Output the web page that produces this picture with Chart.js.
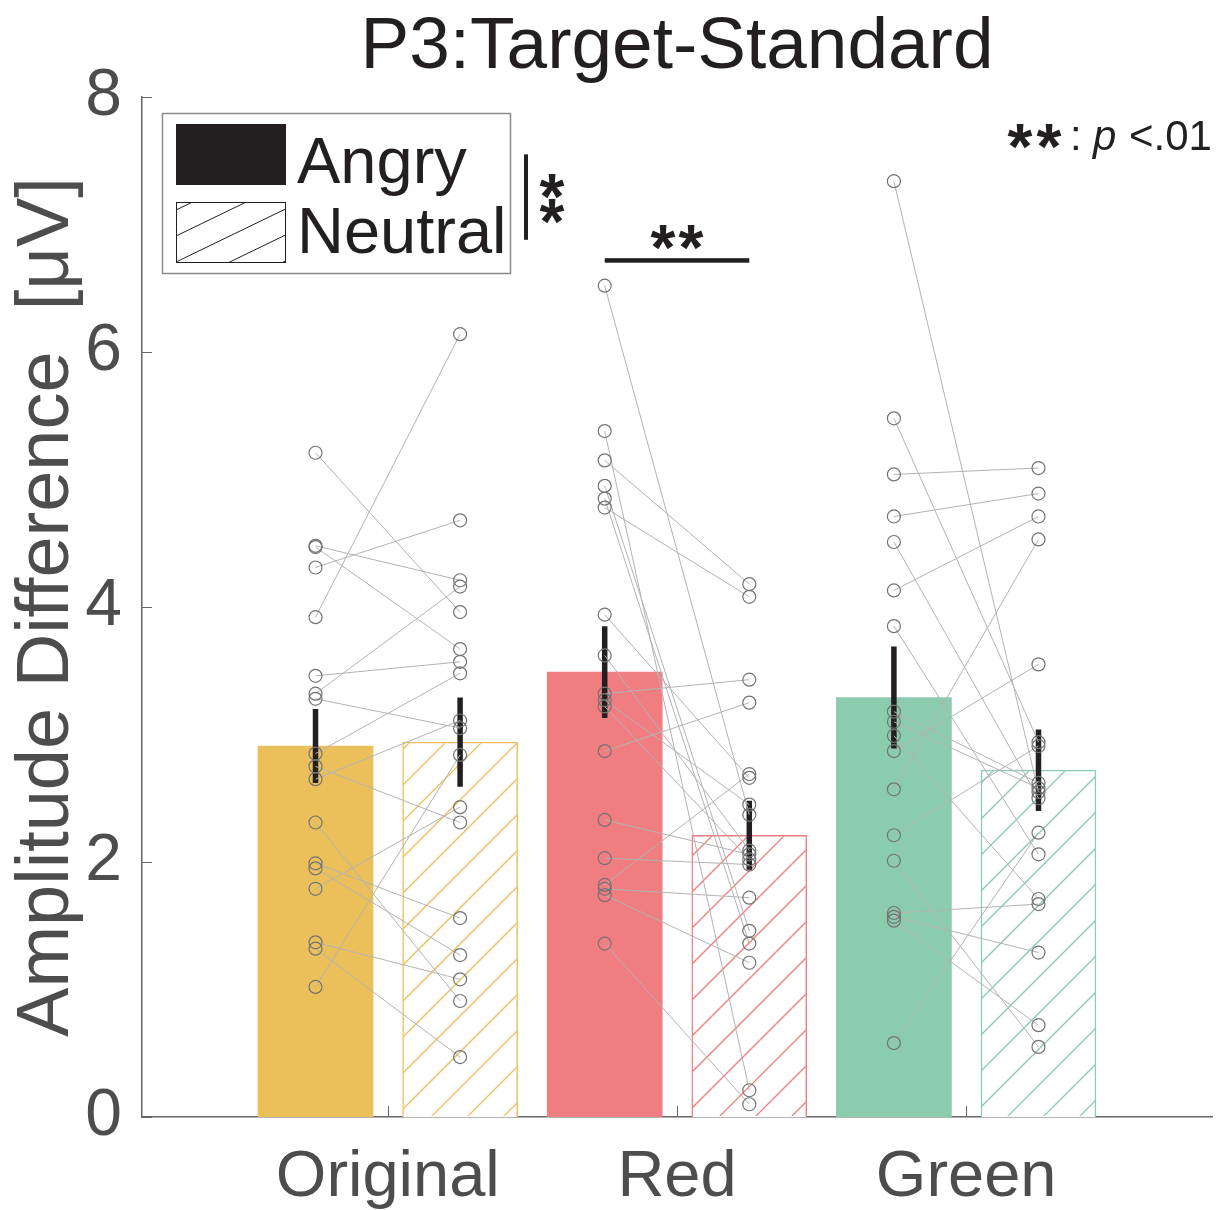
<!DOCTYPE html>
<html>
<head>
<meta charset="utf-8">
<script src="https://cdn.jsdelivr.net/npm/chart.js@4.4.0/dist/chart.umd.min.js"></script>
<style>
  html, body { margin: 0; padding: 0; background: #fff; }
  #wrap { width: 1220px; height: 1210px; }
</style>
</head>
<body>
<div id="wrap"><canvas id="p3" width="1220" height="1210"></canvas></div>
<script>
// P3 Target-Standard amplitude difference, angry vs neutral per colour condition

// group labels and bar summaries (mean, standard error)
var groups = ['Original', 'Red', 'Green'];
var angryMeans = [2.91, 3.49, 3.29];
var neutralMeans = [2.94, 2.21, 2.72];
var angrySE = [0.29, 0.36, 0.40];
var neutralSE = [0.35, 0.27, 0.32];
var yTicks = [0, 2, 4, 6, 8];

// single subjects, same index = same subject (angry -> neutral)
var origAngry = [5.21, 4.48, 4.47, 4.31, 3.92, 3.46, 3.32, 3.28, 2.85, 2.75, 2.65, 2.31, 1.99, 1.95, 1.79, 1.37, 1.32, 1.02];
var origNeutral = [3.96, 4.21, 3.67, 4.68, 6.14, 3.57, 4.16, 3.05, 3.48, 2.31, 3.11, 0.91, 1.56, 1.27, 2.43, 1.08, 0.47, 2.84];
var redAngry = [6.52, 5.38, 5.15, 4.95, 4.85, 4.78, 3.94, 3.62, 3.32, 3.27, 3.22, 2.87, 2.33, 2.03, 1.82, 1.79, 1.74, 1.36];
var redNeutral = [2.37, 0.21, 4.18, 1.46, 1.36, 4.08, 2.66, 2.09, 3.43, 2.45, 2.02, 3.25, 2.06, 1.98, 2.69, 1.72, 1.21, 0.10];
var greenAngry = [7.34, 5.48, 5.04, 4.71, 4.51, 4.13, 3.85, 3.18, 3.10, 2.99, 2.87, 2.57, 2.21, 2.01, 1.60, 1.57, 1.54, 0.58];
var greenNeutral = [2.55, 2.94, 5.09, 4.89, 2.50, 4.71, 2.06, 2.62, 2.58, 1.71, 3.55, 4.53, 2.91, 0.55, 1.67, 1.29, 0.72, 2.23];

var subjects = [[origAngry, origNeutral], [redAngry, redNeutral], [greenAngry, greenNeutral]];

var barColors = ['rgb(235,192,91)', 'rgb(240,126,129)', 'rgb(139,203,174)'];
var FONT = '"Liberation Sans", Arial, Helvetica, sans-serif';
var INK = '#231F20';
var AXIS_TXT = '#4d4d4d';
var OFF = 0.25; // half distance between angry and neutral bar, in x units

// datasets built from the arrays
var angryBars = groups.map(function (g, i) { return { x: i + 1 - OFF, y: angryMeans[i] }; });
var neutralBars = groups.map(function (g, i) { return { x: i + 1 + OFF, y: neutralMeans[i] }; });

var errData = [];
groups.forEach(function (g, i) {
  errData.push({ x: i + 1 - OFF, y: angryMeans[i] - angrySE[i] }, { x: i + 1 - OFF, y: angryMeans[i] + angrySE[i] }, { x: i + 1 - OFF, y: null });
  errData.push({ x: i + 1 + OFF, y: neutralMeans[i] - neutralSE[i] }, { x: i + 1 + OFF, y: neutralMeans[i] + neutralSE[i] }, { x: i + 1 + OFF, y: null });
});

var pairSets = subjects.map(function (pair, gi) {
  var pts = [];
  pair[0].forEach(function (a, k) {
    pts.push({ x: gi + 1 - OFF, y: a }, { x: gi + 1 + OFF, y: pair[1][k] }, { x: gi + 1 + OFF, y: null });
  });
  return {
    type: 'line',
    data: pts,
    order: 1,
    borderColor: '#b3b3b3',
    borderWidth: 1,
    spanGaps: false,
    pointRadius: 6.5,
    pointBorderWidth: 1.2,
    pointBorderColor: '#737373',
    pointBackgroundColor: 'rgba(0,0,0,0)'
  };
});

function star(ctx, cx, cy, size) {
  ctx.save();
  ctx.font = 'bold ' + size + 'px ' + FONT;
  ctx.textAlign = 'left';
  ctx.textBaseline = 'alphabetic';
  var m = ctx.measureText('*');
  var x = cx - (m.actualBoundingBoxRight - m.actualBoundingBoxLeft) / 2;
  var y = cy - (m.actualBoundingBoxDescent - m.actualBoundingBoxAscent) / 2;
  ctx.fillStyle = INK;
  ctx.fillText('*', x, y);
  ctx.restore();
}

function hatchBars(chart, meta) {
  // diagonal hatching inside the neutral bars
  var ctx = chart.ctx;
  var step = 36;
  meta.data.forEach(function (bar, i) {
    var p = bar.getProps(['x', 'y', 'base', 'width'], true);
    var l = p.x - p.width / 2, r = p.x + p.width / 2, t = p.y, b = p.base;
    ctx.save();
    ctx.beginPath();
    ctx.rect(l + 1, t + 1, r - l - 2, b - t - 2);
    ctx.clip();
    ctx.globalAlpha = 1;
    ctx.setLineDash([]);
    ctx.lineWidth = 1.3;
    ctx.strokeStyle = barColors[i];
    ctx.beginPath();
    for (var c = Math.floor((l + t) / step) * step; c <= r + b; c += step) {
      ctx.moveTo(c - b, b);
      ctx.lineTo(c - t, t);
    }
    ctx.stroke();
    ctx.restore();
  });
}

var decorPlugin = {
  id: 'decor',
  beforeDraw: function (chart) {
    var ctx = chart.ctx;
    ctx.save();
    ctx.fillStyle = '#fff';
    ctx.fillRect(0, 0, chart.width, chart.height);
    ctx.restore();
  },
  afterDatasetDraw: function (chart, args) {
    if (args.index === 1) hatchBars(chart, args.meta);
  },
  afterDraw: function (chart) {
    var ctx = chart.ctx;
    var xs = chart.scales.x, ys = chart.scales.y;
    var a = chart.chartArea;
    ctx.save();

    // inward ticks
    ctx.strokeStyle = '#666';
    ctx.lineWidth = 1;
    ctx.beginPath();
    yTicks.forEach(function (v) {
      var py = Math.round(ys.getPixelForValue(v)) + 0.5;
      ctx.moveTo(a.left, py); ctx.lineTo(a.left + 10, py);
    });
    groups.forEach(function (g, i) {
      var px = Math.round(xs.getPixelForValue(i + 1)) + 0.5;
      ctx.moveTo(px, a.bottom); ctx.lineTo(px, a.bottom - 11);
    });
    ctx.stroke();

    // title
    ctx.fillStyle = INK;
    ctx.font = '73px ' + FONT;
    ctx.textAlign = 'center';
    ctx.textBaseline = 'alphabetic';
    ctx.fillText('P3:Target-Standard', (a.left + a.right) / 2, 68);

    // legend
    ctx.strokeStyle = '#8c8c8c';
    ctx.lineWidth = 1.5;
    ctx.strokeRect(162.5, 113.5, 348, 160);
    ctx.fillStyle = INK;
    ctx.fillRect(176, 124, 110, 61);
    ctx.save();
    ctx.beginPath();
    ctx.rect(176, 202, 110, 61);
    ctx.clip();
    ctx.strokeStyle = INK;
    ctx.lineWidth = 1;
    ctx.beginPath();
    for (var k = -6; k < 8; k++) {
      var y0 = 202 + 26 * k;
      ctx.moveTo(176, y0 + 60); ctx.lineTo(300, y0);
    }
    ctx.stroke();
    ctx.restore();
    ctx.strokeStyle = INK;
    ctx.lineWidth = 1;
    ctx.strokeRect(176.5, 202.5, 109, 60);
    ctx.fillStyle = INK;
    ctx.font = '65px ' + FONT;
    ctx.textAlign = 'left';
    ctx.fillText('Angry', 297, 183);
    ctx.fillText('Neutral', 297, 253);

    // main effect of emotion bracket
    ctx.fillStyle = INK;
    ctx.fillRect(524, ys.getPixelForValue(7.55), 4, ys.getPixelForValue(6.88) - ys.getPixelForValue(7.55));
    star(ctx, 552, ys.getPixelForValue(7.30), 64);
    star(ctx, 552, ys.getPixelForValue(7.10), 64);

    // red angry vs neutral
    var x1 = xs.getPixelForValue(2 - OFF), x2 = xs.getPixelForValue(2 + OFF);
    ctx.fillRect(x1, ys.getPixelForValue(6.72) - 2, x2 - x1, 4.5);
    star(ctx, xs.getPixelForValue(2) - 14, ys.getPixelForValue(6.90), 64);
    star(ctx, xs.getPixelForValue(2) + 14, ys.getPixelForValue(6.90), 64);

    // significance note
    star(ctx, 1020, 136, 64);
    star(ctx, 1049, 136, 64);
    ctx.fillStyle = INK;
    ctx.textAlign = 'left';
    ctx.font = '42px ' + FONT;
    ctx.fillText(':', 1070, 150);
    ctx.font = 'italic 42px ' + FONT;
    ctx.fillText('p', 1093, 150);
    ctx.font = '42px ' + FONT;
    ctx.fillText('<.01', 1129, 150);

    ctx.restore();
  }
};

var chart = new Chart(document.getElementById('p3'), {
  type: 'bar',
  data: {
    datasets: [
      {
        label: 'Angry',
        data: angryBars,
        order: 3,
        grouped: false,
        barThickness: 115,
        backgroundColor: barColors,
        borderWidth: 0
      },
      {
        label: 'Neutral',
        data: neutralBars,
        order: 3,
        grouped: false,
        barThickness: 115,
        backgroundColor: '#ffffff',
        borderColor: barColors,
        borderWidth: 1.5
      },
      {
        type: 'line',
        label: 'SE',
        data: errData,
        order: 2,
        borderColor: INK,
        borderWidth: 5.5,
        borderCapStyle: 'butt',
        spanGaps: false,
        pointRadius: 0
      }
    ].concat(pairSets)
  },
  options: {
    responsive: false,
    devicePixelRatio: 1,
    animation: false,
    layout: { padding: { top: 97, right: 8, left: 0, bottom: 0 } },
    plugins: {
      legend: { display: false },
      tooltip: { enabled: false },
      title: { display: false }
    },
    scales: {
      x: {
        type: 'linear',
        min: 0.15,
        max: 3.85,
        offset: false,
        grid: { display: false, offset: false, drawTicks: false },
        border: { display: true, color: '#666', width: 1.5 },
        afterBuildTicks: function (axis) {
          axis.ticks = groups.map(function (g, i) { return { value: i + 1 }; });
        },
        afterFit: function (scale) { scale.height = 93; },
        ticks: {
          autoSkip: false,
          maxRotation: 0,
          padding: 22,
          color: AXIS_TXT,
          font: { family: FONT, size: 65 },
          callback: function (v) { return groups[Math.round(v) - 1]; }
        }
      },
      y: {
        min: 0,
        max: 8,
        grid: { display: false, drawTicks: false },
        border: { display: true, color: '#666', width: 1.5 },
        afterFit: function (scale) { scale.width = 142; },
        ticks: {
          stepSize: 2,
          padding: 20,
          color: AXIS_TXT,
          font: { family: FONT, size: 66 }
        },
        title: {
          display: true,
          text: 'Amplitude Difference  [\u03bcV]',
          color: AXIS_TXT,
          font: { family: FONT, size: 74 },
          padding: { top: 3, bottom: 0 }
        }
      }
    }
  },
  plugins: [decorPlugin]
});
</script>
</body>
</html>
